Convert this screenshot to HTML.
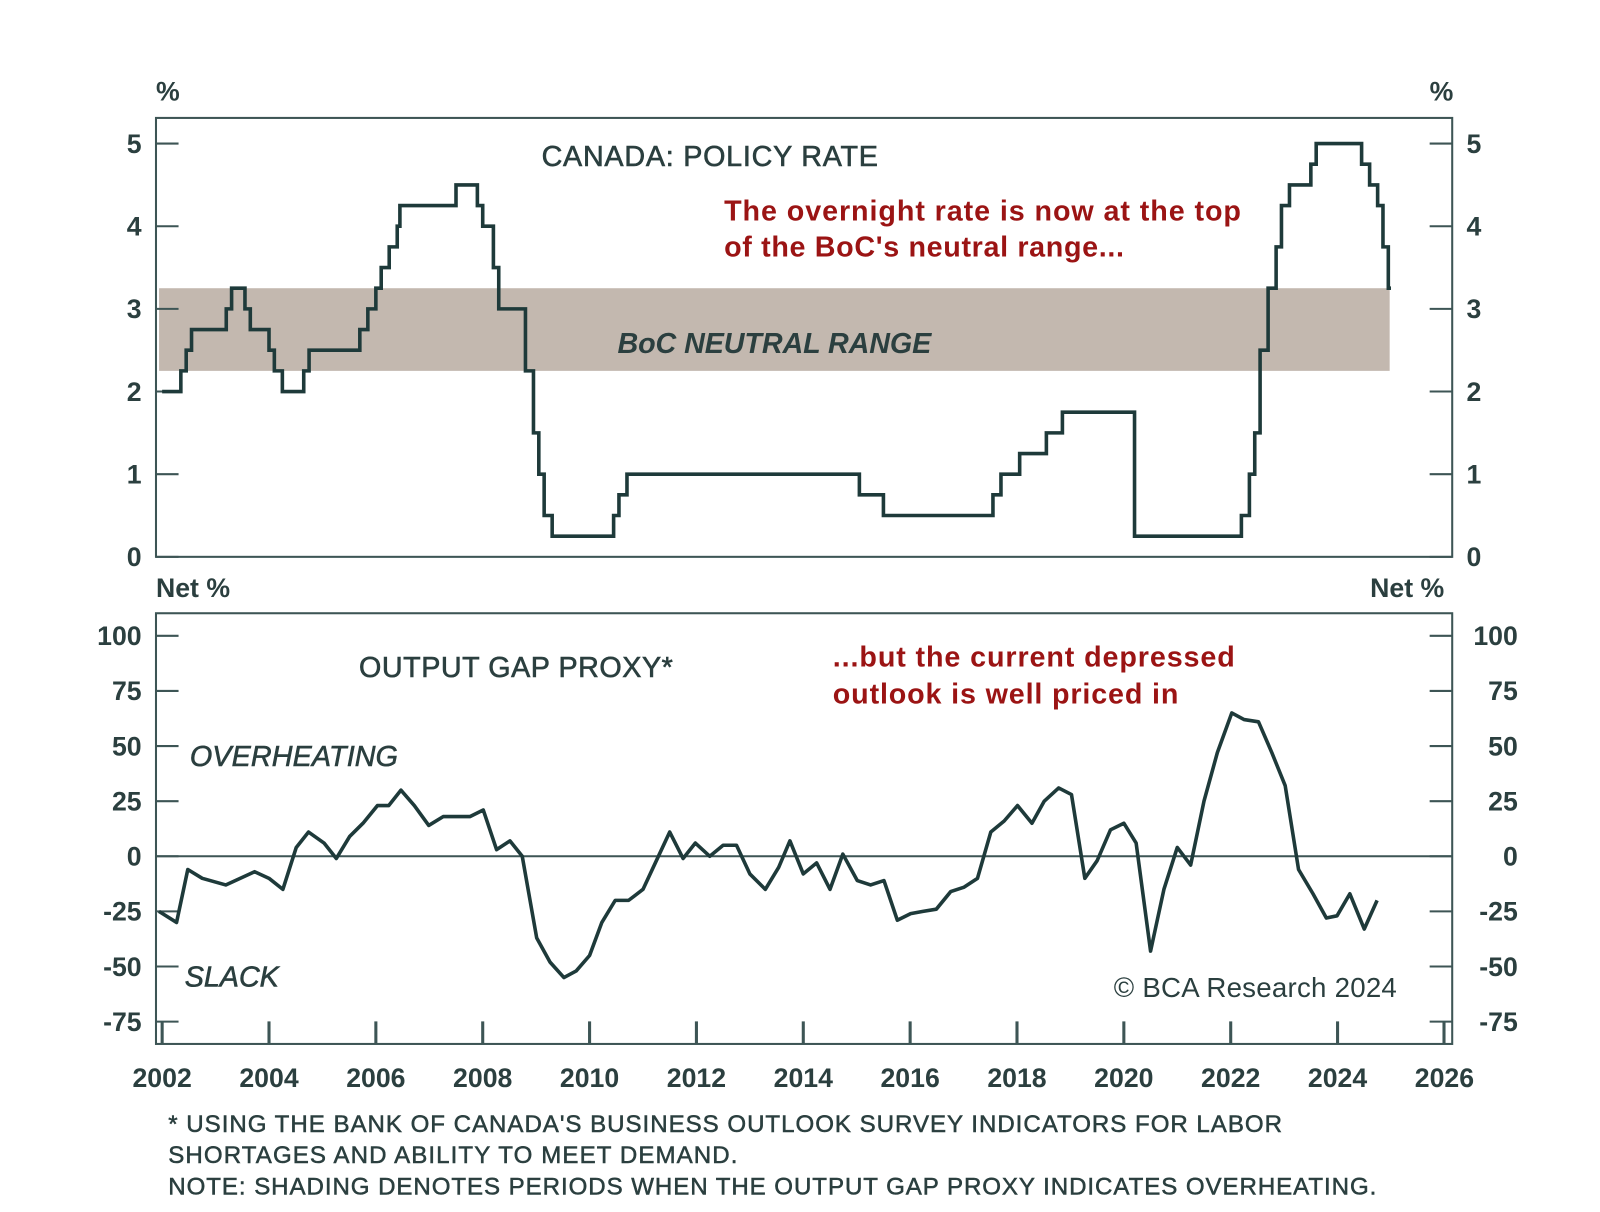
<!DOCTYPE html>
<html><head><meta charset="utf-8"><style>
body{margin:0;background:#fff;}
svg text{font-family:"Liberation Sans",sans-serif;}
</style></head><body>
<svg id="chart" width="1600" height="1207" viewBox="0 0 1560 1177">
<rect x="0" y="0" width="1560" height="1177" fill="#fff"/>
<g id="topg"></g><g id="botg"></g><g id="xax"></g>
</svg>
<script>
const rateDates=[2002.0,2002.35,2002.45,2002.55,2003.2,2003.3,2003.55,2003.65,2004.0,2004.1,2004.25,2004.65,2004.75,2005.7,2005.85,2006.0,2006.1,2006.25,2006.4,2006.45,2007.5,2007.9,2008.0,2008.2,2008.3,2008.8,2008.95,2009.05,2009.15,2009.3,2010.45,2010.55,2010.7,2015.05,2015.5,2017.55,2017.7,2018.05,2018.55,2018.85,2020.2,2022.2,2022.35,2022.45,2022.55,2022.7,2022.85,2022.95,2023.1,2023.5,2023.6,2024.45,2024.6,2024.75,2024.85,2024.95];
const rateValues=[2.0,2.25,2.5,2.75,3.0,3.25,3.0,2.75,2.5,2.25,2.0,2.25,2.5,2.75,3.0,3.25,3.5,3.75,4.0,4.25,4.5,4.25,4.0,3.5,3.0,2.25,1.5,1.0,0.5,0.25,0.5,0.75,1.0,0.75,0.5,0.75,1.0,1.25,1.5,1.75,0.25,0.5,1.0,1.5,2.5,3.25,3.75,4.25,4.5,4.75,5.0,4.75,4.5,4.25,3.75,3.25];
const rateEnd=2025.0;
const neutralRange=[2.25,3.25];
const gapDates=[2001.94,2002.27,2002.48,2002.75,2003.19,2003.73,2004.0,2004.26,2004.51,2004.74,2005.03,2005.26,2005.51,2005.76,2006.03,2006.24,2006.47,2006.72,2006.99,2007.26,2007.53,2007.76,2008.01,2008.26,2008.51,2008.74,2009.01,2009.26,2009.52,2009.75,2010.0,2010.23,2010.48,2010.73,2011.0,2011.25,2011.5,2011.75,2011.98,2012.25,2012.5,2012.75,2013.0,2013.29,2013.54,2013.75,2014.0,2014.25,2014.5,2014.74,2015.01,2015.26,2015.51,2015.76,2016.01,2016.24,2016.49,2016.76,2017.01,2017.26,2017.51,2017.76,2018.01,2018.28,2018.51,2018.78,2019.02,2019.27,2019.5,2019.75,2020.0,2020.23,2020.5,2020.75,2021.0,2021.25,2021.5,2021.75,2022.02,2022.25,2022.52,2022.77,2023.02,2023.27,2023.54,2023.79,2023.99,2024.23,2024.5,2024.74];
const gapValues=[-25,-30,-6,-10,-13,-7,-10,-15,4,11,6,-1,9,15,23,23,30,23,14,18,18,18,21,3,7,0,-37,-48,-55,-52,-45,-30,-20,-20,-15,-2,11,-1,6,0,5,5,-8,-15,-5,7,-8,-3,-15,1,-11,-13,-11,-29,-26,-25,-24,-16,-14,-10,11,16,23,15,25,31,28,-10,-2,12,15,6,-43,-15,4,-4,25,47,65,62,61,47,32,-6,-17,-28,-27,-17,-33,-20];
const rateTicks=[0,1,2,3,4,5];
const gapTicks=[100,75,50,25,0,-25,-50,-75];
const yearTicks=[2002,2004,2006,2008,2010,2012,2014,2016,2018,2020,2022,2024,2026];

const NS="http://www.w3.org/2000/svg";
const L=152,R=1416;
const xS=y=>158+(y-2002)*52.1;
const yTop=v=>543-v*80.6;
const yBot=v=>835-v*2.15;
const ink="#1e3a3a",txt="#2b3f3f",red="#9b1414",fr="#3d5555";
function mk(p,tag,at){const e=document.createElementNS(NS,tag);for(const k in at)e.setAttribute(k,at[k]);p.appendChild(e);return e;}
function tx(p,x,y,s,at){const e=mk(p,"text",Object.assign({x:x,y:y,fill:txt,"font-size":26,"font-weight":"bold"},at));e.textContent=s;return e;}
const gTop=document.getElementById("topg"),gBot=document.getElementById("botg"),xax=document.getElementById("xax");

let band=mk(gTop,"rect",{x:155,y:yTop(neutralRange[1]),width:1200,height:yTop(neutralRange[0])-yTop(neutralRange[1]),fill:"#c3b8af"});


let f1=mk(gTop,"rect",{x:L,y:115,width:R-L,height:428,fill:"none",stroke:fr,"stroke-width":2});


rateTicks.forEach(v=>{const y=yTop(v);
 mk(gTop,"line",{x1:L,x2:L+22,y1:y,y2:y,stroke:fr,"stroke-width":2});
 mk(gTop,"line",{x1:R-22,x2:R,y1:y,y2:y,stroke:fr,"stroke-width":2});
 let a=tx(gTop,138,y+9,String(v),{"text-anchor":"end"});
 
 
 let b=tx(gTop,1430,y+9,String(v));
 
 
});
let d="";
rateDates.forEach((t,i)=>{const x=xS(t),y=yTop(rateValues[i]);d+=(i?` H${x} V${y}`:`M${x} ${y}`);});
d+=` H${xS(rateEnd)}`;
let rl=mk(gTop,"path",{d:d,fill:"none",stroke:ink,"stroke-width":3.5});


[[tx(gTop,152,98,"%"),"rate-unit-left"],[tx(gTop,1394,98,"%"),"rate-unit-right"],
 [tx(gTop,528,162,"CANADA: POLICY RATE",{"font-weight":"normal","font-size":28,"stroke":txt,"stroke-width":0.6,"textLength":328}),"policy-rate-title"],
 [tx(gTop,706,215,"The overnight rate is now at the top",{fill:red,"font-size":28,"textLength":504}),"rate-annotation-line1"],
 [tx(gTop,706,250,"of the BoC's neutral range...",{fill:red,"font-size":28,"textLength":390}),"rate-annotation-line2"],
 [tx(gTop,602,344,"BoC NEUTRAL RANGE",{"font-style":"italic","font-size":28,"textLength":306}),"neutral-range-label"],
 [tx(gTop,152,582,"Net %"),"gap-unit-left"],[tx(gTop,1336,582,"Net %"),"gap-unit-right"]
].forEach(([e,n])=>{});

let f2=mk(gBot,"rect",{x:L,y:598,width:R-L,height:420,fill:"none",stroke:fr,"stroke-width":2});


gapTicks.forEach(v=>{const y=yBot(v);
 mk(gBot,"line",{x1:L,x2:L+22,y1:y,y2:y,stroke:fr,"stroke-width":2});
 mk(gBot,"line",{x1:R-22,x2:R,y1:y,y2:y,stroke:fr,"stroke-width":2});
 let a=tx(gBot,138,y+9,String(v),{"text-anchor":"end"});
 
 
 let b=tx(gBot,1480,y+9,String(v),{"text-anchor":"end"});
 
 
});
let zl=mk(gBot,"line",{x1:L,x2:R,y1:yBot(0),y2:yBot(0),stroke:fr,"stroke-width":2});


let pts=gapDates.map((t,i)=>xS(t)+","+yBot(gapValues[i])).join(" ");
let gl=mk(gBot,"polyline",{points:pts,fill:"none",stroke:ink,"stroke-width":3.5,"stroke-linejoin":"round"});


[[tx(gBot,350,660,"OUTPUT GAP PROXY*",{"font-weight":"normal","font-size":28,"stroke":txt,"stroke-width":0.6,"textLength":306}),"output-gap-title"],
 [tx(gBot,812,650,"...but the current depressed",{fill:red,"font-size":28,"textLength":392}),"gap-annotation-line1"],
 [tx(gBot,812,686,"outlook is well priced in",{fill:red,"font-size":28,"textLength":337}),"gap-annotation-line2"],
 [tx(gBot,185,747,"OVERHEATING",{"font-style":"italic","font-size":28,"font-weight":"normal","stroke":txt,"stroke-width":0.6,"textLength":203}),"overheating-label"],
 [tx(gBot,180,962,"SLACK",{"font-style":"italic","font-size":28,"font-weight":"normal","stroke":txt,"stroke-width":0.6}),"slack-label"],
 [tx(gBot,1086,972,"© BCA Research 2024",{"font-family":"Liberation Serif","font-weight":"normal","font-size":27,"textLength":276}),"copyright"]
].forEach(([e,n])=>{});

yearTicks.forEach(yr=>{const x=xS(yr);
 if(yr>2002&&yr<2026) mk(xax,"line",{x1:x,x2:x,y1:996,y2:1018,stroke:fr,"stroke-width":3});
 let t=tx(xax,x,1060,String(yr),{"text-anchor":"middle"});
 
 
});
mk(xax,"line",{x1:158,x2:158,y1:996,y2:1018,stroke:fr,"stroke-width":3});
mk(xax,"line",{x1:1408,x2:1408,y1:996,y2:1018,stroke:fr,"stroke-width":3});
[["* USING THE BANK OF CANADA'S BUSINESS OUTLOOK SURVEY INDICATORS FOR LABOR",1104,"footnote-line1",1086],
 ["SHORTAGES AND ABILITY TO MEET DEMAND.",1134,"footnote-line2",555],
 ["NOTE: SHADING DENOTES PERIODS WHEN THE OUTPUT GAP PROXY INDICATES OVERHEATING.",1165,"footnote-note",1178]
].forEach(([s,y,n,w])=>{let e=tx(xax,164,y,s,{"font-size":23.5,"font-weight":"normal","stroke":txt,"stroke-width":0.5,"textLength":w});});
</script>
</body></html>
